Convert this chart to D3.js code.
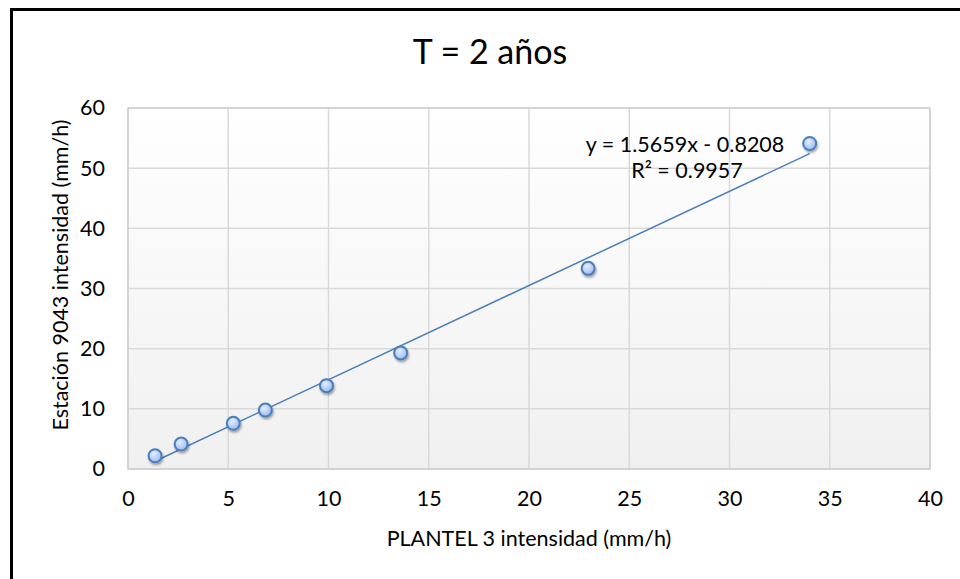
<!DOCTYPE html>
<html>
<head>
<script src="https://d3js.org/d3.v7.min.js"></script>
<style>
  body { margin: 0; background: #fff; }
  text { font-family: Lato, "Open Sans", sans-serif; fill: #000; }
</style>
</head>
<body>
<div id="chart"></div>
<script>
// data
var plantel = [1.35, 2.65, 5.25, 6.85, 9.9, 13.6, 22.95, 34.0];
var estacion = [2.2, 4.15, 7.6, 9.8, 13.85, 19.3, 33.35, 54.1];
var xTicks = [0, 5, 10, 15, 20, 25, 30, 35, 40];
var yTicks = [0, 10, 20, 30, 40, 50, 60];
var slope = 1.5659, intercept = -0.8208;

var W = 960, H = 579;
var m = {left: 128, top: 108, right: 30, bottom: 110};
var fs = "21.5px";

var svg = d3.select("#chart").append("svg")
    .attr("width", W).attr("height", H);

var defs = svg.append("defs");
var bg = defs.append("linearGradient").attr("id", "bg")
    .attr("x1", 0).attr("y1", 0).attr("x2", 0).attr("y2", 1);
bg.append("stop").attr("offset", "0%").attr("stop-color", "#ffffff");
bg.append("stop").attr("offset", "100%").attr("stop-color", "#f0f0f0");

var mk = defs.append("radialGradient").attr("id", "mk")
    .attr("cx", "40%").attr("cy", "35%").attr("r", "65%");
mk.append("stop").attr("offset", "0%").attr("stop-color", "#e4eeff");
mk.append("stop").attr("offset", "100%").attr("stop-color", "#9dbbf0");

var sh = defs.append("filter").attr("id", "sh")
    .attr("x", "-50%").attr("y", "-50%").attr("width", "200%").attr("height", "200%");
sh.append("feDropShadow").attr("dx", 1).attr("dy", 2).attr("stdDeviation", 1.2)
    .attr("flood-color", "#000").attr("flood-opacity", 0.35);

// outer frame
svg.append("rect")
    .attr("x", 11.5).attr("y", 9.5).attr("width", 1000).attr("height", 1000)
    .attr("fill", "none").attr("stroke", "#000").attr("stroke-width", 3);

var x = d3.scaleLinear().domain([0, 40]).range([m.left, W - m.right]);
var y = d3.scaleLinear().domain([0, 60]).range([H - m.bottom, m.top]);

svg.append("rect")
    .attr("x", x(0)).attr("y", y(60))
    .attr("width", x(40) - x(0)).attr("height", y(0) - y(60))
    .attr("fill", "url(#bg)");

// gridlines
svg.append("g").selectAll("line").data(xTicks).join("line")
    .attr("x1", d => x(d)).attr("x2", d => x(d))
    .attr("y1", y(0)).attr("y2", y(60))
    .attr("stroke", "#d9d9d9").attr("stroke-width", 1.5);
svg.append("g").selectAll("line").data(yTicks).join("line")
    .attr("x1", x(0)).attr("x2", x(40))
    .attr("y1", d => y(d)).attr("y2", d => y(d))
    .attr("stroke", "#d9d9d9").attr("stroke-width", 1.5);

svg.append("rect")
    .attr("x", x(0)).attr("y", y(60))
    .attr("width", x(40) - x(0)).attr("height", y(0) - y(60))
    .attr("fill", "none").attr("stroke", "#cfcfcf").attr("stroke-width", 1.5);

// axes (labels only)
var xaxis = d3.axisBottom(x).tickValues(xTicks).tickSize(0).tickPadding(22);
var gx = svg.append("g").attr("transform", "translate(0," + y(0) + ")").call(xaxis);
gx.select(".domain").remove();
gx.selectAll("text").style("font-size", fs).style("font-family", "Lato, 'Open Sans', sans-serif").attr("fill", "#000");

var yaxis = d3.axisLeft(y).tickValues(yTicks).tickSize(0).tickPadding(23);
var gy = svg.append("g").attr("transform", "translate(" + x(0) + ",0)").call(yaxis);
gy.select(".domain").remove();
gy.selectAll("text").style("font-size", fs).style("font-family", "Lato, 'Open Sans', sans-serif").attr("fill", "#000");

// trendline
var xMin = d3.min(plantel), xMax = d3.max(plantel);
svg.append("line")
    .attr("x1", x(xMin)).attr("y1", y(slope * xMin + intercept))
    .attr("x2", x(xMax)).attr("y2", y(slope * xMax + intercept))
    .attr("stroke", "#4a7ebb").attr("stroke-width", 1.5);

// points
svg.append("g").selectAll("circle").data(plantel).join("circle")
    .attr("cx", d => x(d))
    .attr("cy", (d, i) => y(estacion[i]))
    .attr("r", 6.5)
    .attr("fill", "url(#mk)")
    .attr("stroke", "#4a7ebb").attr("stroke-width", 2)
    .attr("filter", "url(#sh)");

// equation
svg.append("text").attr("x", 685).attr("y", 152).attr("text-anchor", "middle")
    .style("font-size", fs).text("y = 1.5659x - 0.8208");
svg.append("text").attr("x", 687).attr("y", 178).attr("text-anchor", "middle")
    .style("font-size", fs).text("R² = 0.9957");

// titles
svg.append("text").attr("x", 490).attr("y", 64).attr("text-anchor", "middle")
    .style("font-size", "34px").text("T = 2 años");
svg.append("text").attr("x", 529).attr("y", 546).attr("text-anchor", "middle")
    .style("font-size", fs).text("PLANTEL 3 intensidad (mm/h)");
svg.append("text").attr("transform", "translate(68,275) rotate(-90)")
    .attr("text-anchor", "middle")
    .style("font-size", fs).text("Estación 9043 intensidad (mm/h)");
</script>
</body>
</html>
